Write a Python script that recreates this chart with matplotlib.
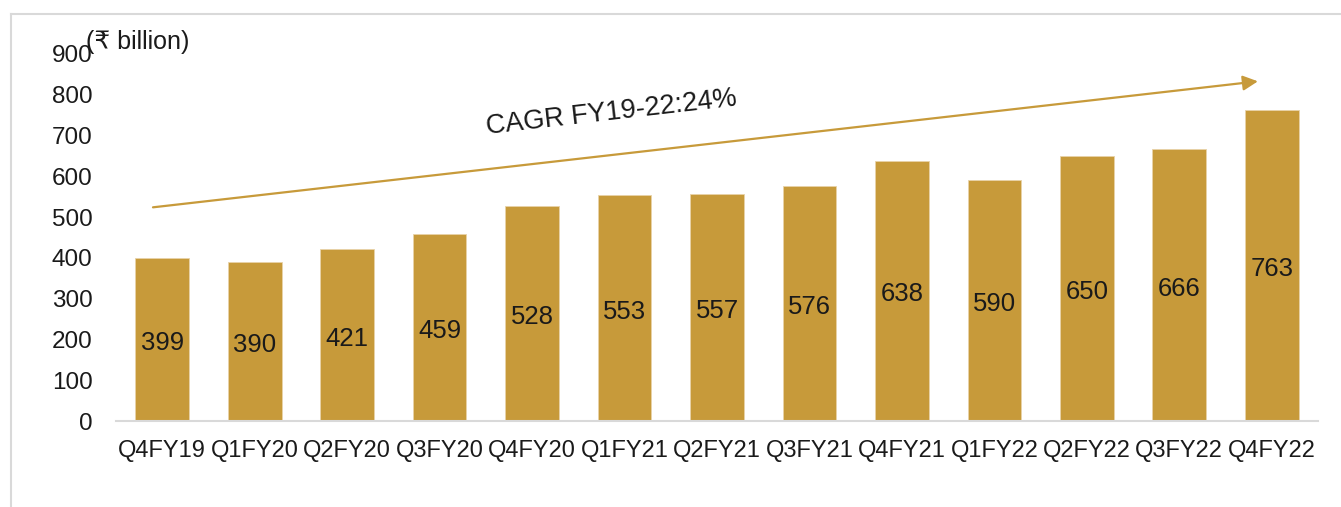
import matplotlib
matplotlib.use("Agg")
import matplotlib.pyplot as plt
from matplotlib.lines import Line2D

plt.rcParams['font.family'] = ['Liberation Sans', 'DejaVu Sans']

categories = ["Q4FY19", "Q1FY20", "Q2FY20", "Q3FY20", "Q4FY20", "Q1FY21", "Q2FY21",
              "Q3FY21", "Q4FY21", "Q1FY22", "Q2FY22", "Q3FY22", "Q4FY22"]
values = [399, 390, 421, 459, 528, 553, 557, 576, 638, 590, 650, 666, 763]
yticks = [0, 100, 200, 300, 400, 500, 600, 700, 800, 900]
unit_label = "(₹ billion)"
cagr_label = "CAGR FY19-22:24%"

bar_color = "#C79A3A"

fig = plt.figure(figsize=(13.41, 5.07), dpi=100)
ax = fig.add_axes([116/1341, 86/507, (1318-116)/1341, (421-54)/507])

x = list(range(len(categories)))
ax.bar(x, values, width=0.58, color=bar_color, edgecolor="#E8D3A8", linewidth=0.6, zorder=2)
for xi, v in zip(x, values):
    ax.annotate(str(v), xy=(xi, v / 2), xytext=(0, -2.5), textcoords="offset points",
                ha="center", va="center", fontsize=18.5, color="#1a1a1a")

ax.set_xlim(-0.5, len(categories) - 0.5)
ax.set_ylim(0, 900)
ax.set_yticks(yticks)
ax.set_yticklabels([str(t) for t in yticks], fontsize=17.5, color="#1a1a1a")
ax.set_xticks(x)
ax.set_xticklabels(categories, fontsize=17, color="#1a1a1a")
ax.tick_params(axis="both", length=0)
ax.tick_params(axis="y", pad=17)
ax.tick_params(axis="x", pad=14)
for s in ["top", "right", "left"]:
    ax.spines[s].set_visible(False)
ax.spines["bottom"].set_color("#D9D9D9")
ax.spines["bottom"].set_linewidth(1.5)

# CAGR arrow
ax.annotate("", xy=(11.85, 833), xytext=(-0.1, 524),
            arrowprops=dict(arrowstyle="-|>,head_length=0.9,head_width=0.45",
                            color=bar_color, lw=1.6, shrinkA=0, shrinkB=0))
ax.text(4.86, 757, cagr_label, rotation=6.5, rotation_mode="anchor",
        ha="center", va="center", fontsize=19.5, color="#1a1a1a")

# unit label
fig.text(86/1341, 1 - 42/507, unit_label, fontsize=18, color="#1a1a1a",
         ha="left", va="center")

# frame lines
fig.add_artist(Line2D([11/1341, 1.0], [1 - 14/507, 1 - 14/507], color="#D9D9D9", lw=1.5,
                      transform=fig.transFigure))
fig.add_artist(Line2D([11/1341, 11/1341], [0, 1 - 14/507], color="#D9D9D9", lw=1.5,
                      transform=fig.transFigure))

fig.savefig("out.png", dpi=100)
